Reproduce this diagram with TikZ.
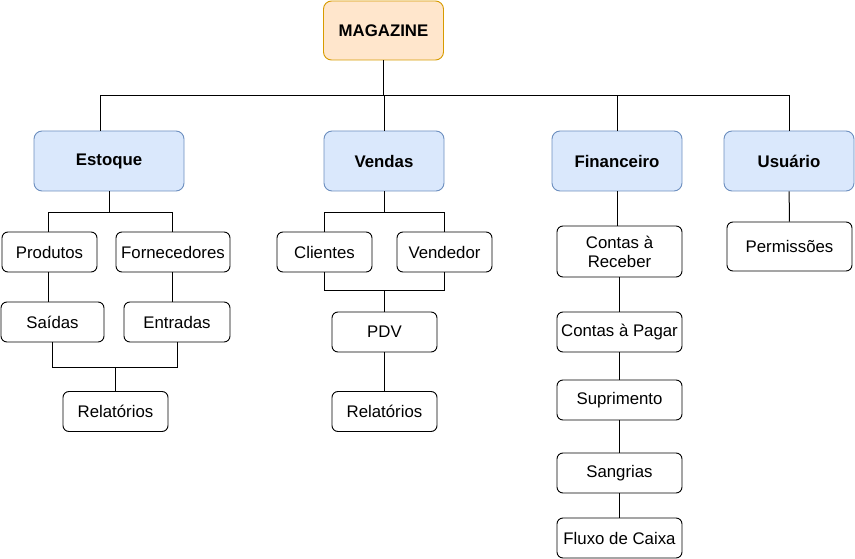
\documentclass[tikz,border=0pt]{standalone}
\usepackage{fontspec}
\setmainfont{Liberation Sans}
\usetikzlibrary{positioning}

\definecolor{rootfill}{HTML}{FFE6CC}
\definecolor{rootline}{HTML}{D79B00}
\definecolor{areafill}{HTML}{DAE8FC}
\definecolor{arealine}{HTML}{6C8EBF}

\tikzset{
    root/.style={draw=rootline, fill=rootfill, rounded corners=8pt, line width=0.9pt,
        inner sep=0pt, minimum width=120pt, minimum height=59pt, font=\fontsize{16.8}{19}\selectfont\bfseries},
    area/.style={draw=arealine, fill=areafill, rounded corners=8pt, line width=0.9pt,
        inner sep=0pt, minimum height=60pt, font=\fontsize{16.8}{19}\selectfont\bfseries},
    item/.style={draw, rounded corners=6pt, line width=0.9pt, inner sep=0pt,
        minimum width=125pt, minimum height=40pt, align=center, font=\fontsize{16.8}{19}\selectfont},
    link/.style={line width=1pt}
}

\begin{document}
\begin{tikzpicture}[x=1pt, y=-1pt]
    \useasboundingbox (0,0) rectangle (855,559);

    % topo
    \node[root] (magazine) at (383.5,30.5) {MAGAZINE};

    % areas
    \node[area, minimum width=150pt] (estoque) at (109,161) {Estoque};
    \node[area, minimum width=120pt] (vendas) at (384,161) {Vendas};
    \node[area, minimum width=130pt] (financeiro) at (617,161) {Financeiro};
    \node[area, minimum width=130pt] (usuario) at (789,161) {Usuário};
    \coordinate (bus) at (383.5,96);

    % estoque
    \node[item, minimum width=95pt] (produtos) at (49.5,252) {Produtos};
    \node[item, minimum width=114pt] (fornecedores) at (173,252) {Fornecedores};
    \node[item, minimum width=103pt] (saidas) at (52.5,322) {Saídas};
    \node[item, minimum width=106pt] (entradas) at (177,322) {Entradas};
    \node[item, minimum width=105pt] (relestoque) at (115.5,411.5) {Relatórios};

    % vendas
    \node[item, minimum width=95pt] (clientes) at (324.5,252) {Clientes};
    \node[item, minimum width=95pt] (vendedor) at (444.5,252) {Vendedor};
    \node[item, minimum width=105pt] (pdv) at (384.5,332) {PDV};
    \node[item, minimum width=105pt] (relvendas) at (384.5,411.5) {Relatórios};

    % financeiro
    \node[item, minimum height=51pt] (receber) at (619.5,251.5) {Contas à\\Receber};
    \node[item] (pagar) at (619.5,332) {Contas à Pagar};
    \node[item] (suprimento) at (619.5,400) {Suprimento};
    \node[item] (sangrias) at (619.5,473) {Sangrias};
    \node[item] (fluxo) at (619.5,538) {Fluxo de Caixa};

    % usuario
    \node[item, minimum height=49pt] (permissoes) at (789.5,246.5) {Permissões};

    % ligacoes
    \draw[link] (magazine.south) -- (bus);
    \draw[link] (bus) -| ([xshift=-9pt]estoque.north);
    \draw[link] (bus) -| (vendas.north);
    \draw[link] (bus) -| (financeiro.north);
    \draw[link] (bus) -| (usuario.north);

    \draw[link] (estoque.south) -- ++(0,21) -| ([xshift=-1.5pt]produtos.north);
    \draw[link] (estoque.south) -- ++(0,21) -| ([xshift=-1pt]fornecedores.north);
    \draw[link] ([xshift=-1.5pt]produtos.south) -- ([xshift=-1.5pt]produtos.south |- saidas.north);
    \draw[link] ([xshift=-1pt]fornecedores.south) -- ([xshift=-1pt]fornecedores.south |- entradas.north);
    \draw[link] (saidas.south) -- ++(0,25) -| (relestoque.north);
    \draw[link] (entradas.south) -- ++(0,25) -| (relestoque.north);

    \draw[link] (vendas.south) -- ++(0,21) -| (clientes.north);
    \draw[link] (vendas.south) -- ++(0,21) -| (vendedor.north);
    \draw[link] (clientes.south) -- ++(0,18) -| (pdv.north);
    \draw[link] (vendedor.south) -- ++(0,18) -| (pdv.north);
    \draw[link] (pdv) -- (relvendas);

    \draw[link] (financeiro.south) -- (financeiro.south |- receber.north);
    \draw[link] (receber) -- (pagar);
    \draw[link] (pagar) -- (suprimento);
    \draw[link] (suprimento) -- (sangrias);
    \draw[link] (sangrias) -- (fluxo);

    \draw[link] (usuario) -- (permissoes);
\end{tikzpicture}
\end{document}
